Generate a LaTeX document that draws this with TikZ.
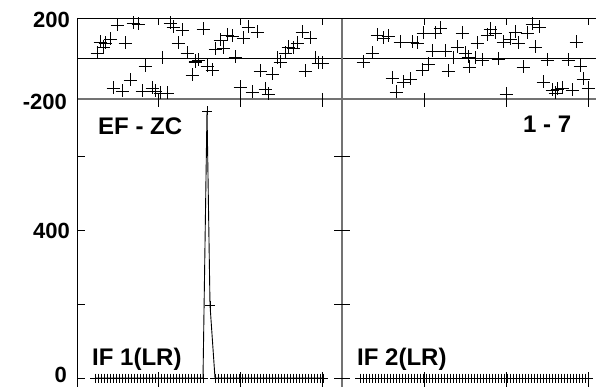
\documentclass[tikz,border=0pt]{standalone}
\usepackage{fontspec}
\setmainfont{Liberation Sans}
\usetikzlibrary{plotmarks}
\begin{document}
\begin{tikzpicture}[x=1pt,y=-1pt,
    axis/.style={black,line width=1pt},
    grayaxis/.style={black!55,line width=1.6pt},
    phasept/.style={only marks,mark=+,mark size=6.5pt,mark options={line width=0.9pt}},
    ampline/.style={black,line width=0.9pt,mark=+,mark size=5pt,mark options={yscale=0.9}},
    numlabel/.style={anchor=east,inner sep=0pt,font=\bfseries\fontsize{22}{22}\selectfont},
    panellabel/.style={anchor=base west,inner sep=0pt,font=\bfseries\fontsize{24}{24}\selectfont}]
  \useasboundingbox (0,0) rectangle (596,387);
  \draw[axis] (77,19) -- (596,19);
  \draw[axis] (77,59) -- (596,59);
  \draw[grayaxis] (77,99) -- (596,99);
  \draw[axis] (77,18) -- (77,387);
  \draw[grayaxis] (342,19) -- (342,387);
  \foreach \x in {158,240,322,424,506,588} {
    \draw[axis] (\x,19) -- (\x,25);
    \draw[axis] (\x,93) -- (\x,107);
    \draw[axis] (\x,372) -- (\x,387);
  }
  \foreach \y in {157,230,304,378} {
    \draw[axis] (77,\y) -- (85,\y);
    \draw[axis] (334,\y) -- (350,\y);
  }
  \draw[phasept] plot coordinates {
    (117,25) (133,23) (138,24) (100,42) (105,43) (110,39) (103,47) (97,53)
    (125,43) (170,23) (173,27) (182,30) (178,43) (187,53) (195,62) (192,75)
    (162,58) (145,66) (130,80) (113,88) (122,91) (142,91) (152,88) (155,91)
    (160,93) (167,93) (203,29) (220,40) (227,35) (232,36) (215,49) (223,48)
    (243,38) (248,27) (257,32) (195,61) (198,60) (207,66) (212,70) (235,57)
    (240,87) (252,92) (265,89) (268,94) (260,71) (272,74) (277,58) (280,62)
    (285,53) (288,47) (293,48) (297,43) (302,32) (310,38) (315,58) (318,63)
    (322,63) (305,71)};
  \draw[phasept] plot coordinates {
    (363,62) (372,53) (377,35) (383,38) (388,36) (400,42) (412,42) (417,43)
    (423,33) (435,33) (440,28) (462,33) (432,51) (445,51) (457,47) (453,58)
    (465,53) (468,57) (475,58) (482,60) (477,43) (487,35) (490,29) (495,33)
    (503,42) (510,39) (515,32) (518,43) (527,33) (532,24) (539,27) (535,47)
    (498,59) (523,67) (547,60) (568,60) (580,66) (583,79) (588,88) (576,42)
    (448,71) (469,67) (428,64) (422,70) (410,79) (403,82) (392,78) (396,92)
    (543,82) (552,90) (557,89) (562,88) (572,90) (555,93) (506,94)};
  \draw[ampline] plot[domain=95:203,samples=37] (\x,378)
    -- plot coordinates {(207,111) (210,305)}
    -- plot[domain=215:323,samples=37] (\x,378);
  \draw[ampline] plot[domain=360:588,samples=77] (\x,378);
  \node[numlabel] (phasetop) at (70,20) {200};
  \node[numlabel] (phasebot) at (67,102) {-200};
  \node[numlabel] (ampmid) at (70,231) {400};
  \node[numlabel] (ampzero) at (67,375) {0};
  \node[panellabel] (baseline) at (98,135) {EF - ZC};
  \node[panellabel] (antennas) at (523,133) {1 - 7};
  \node[panellabel] (ifone) at (92,365) {IF 1(LR)};
  \node[panellabel] (iftwo) at (357,365) {IF 2(LR)};
\end{tikzpicture}
\end{document}
